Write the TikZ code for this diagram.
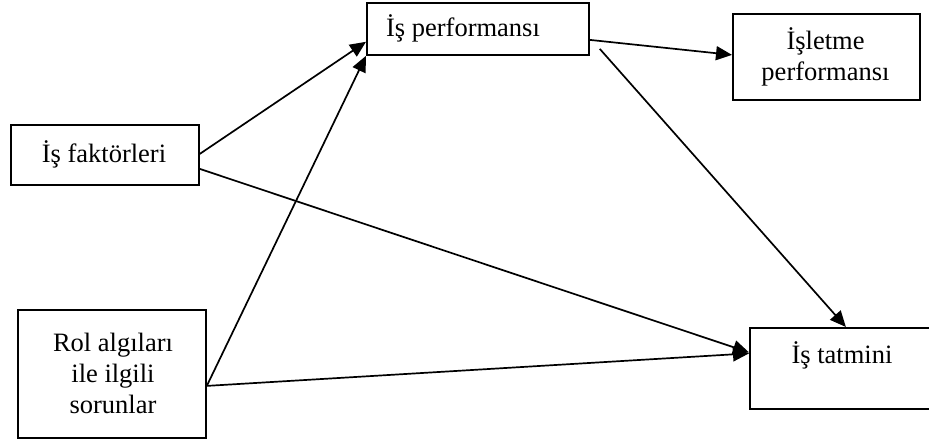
\documentclass[tikz,border=0pt]{standalone}
\usepackage{fontspec}
\setmainfont{Liberation Serif}
\usetikzlibrary{arrows.meta}
\begin{document}
\begin{tikzpicture}[x=1pt,y=-1pt,
  box/.style={draw,line width=1.8pt,inner sep=0pt,anchor=north west},
  lbl/.style={inner sep=0pt,align=center,font=\fontsize{26.5}{31}\selectfont},
  conn/.style={line width=1.7pt,-{Triangle[length=16pt,width=14pt]}}]
\useasboundingbox (0,0) rectangle (929,443);
\node[box,minimum width=222pt,minimum height=52pt] (perf) at (366,2) {};
\node[box,minimum width=187pt,minimum height=86pt] (islet) at (732,13) {};
\node[box,minimum width=188pt,minimum height=60pt] (fakt) at (10,124) {};
\node[box,minimum width=188pt,minimum height=128pt] (rol) at (17,309) {};
\node[box,minimum width=184pt,minimum height=81pt] (tat) at (749,327) {};
\node[lbl] (tperf) at (463,28) {İş performansı};
\node[lbl] (tislet) at (825.5,57) {İşletme\\performansı};
\node[lbl] (tfakt) at (104,154) {İş faktörleri};
\node[lbl] (trol) at (113,373) {Rol algıları\\ile ilgili\\sorunlar};
\node[lbl] (ttat) at (842,355) {İş tatmini};
\coordinate (pstart) at ([shift={(10,20)}]perf.east);
\draw[conn] ([shift={(0,-1)}]fakt.east) -- ([shift={(0,-14)}]perf.south west);
\draw[conn] ([shift={(0,14)}]fakt.east) -- ([shift={(0,-16)}]tat.west);
\draw[conn] ([shift={(0,12)}]rol.east) -- (perf.south west);
\draw[conn] ([shift={(0,12)}]rol.east) -- ([shift={(0,-15)}]tat.west);
\draw[conn] ([shift={(0,11)}]perf.east) -- ([shift={(0,-2)}]islet.west);
\draw[conn] (pstart) -- ([shift={(4,0)}]tat.north);
\end{tikzpicture}
\end{document}
